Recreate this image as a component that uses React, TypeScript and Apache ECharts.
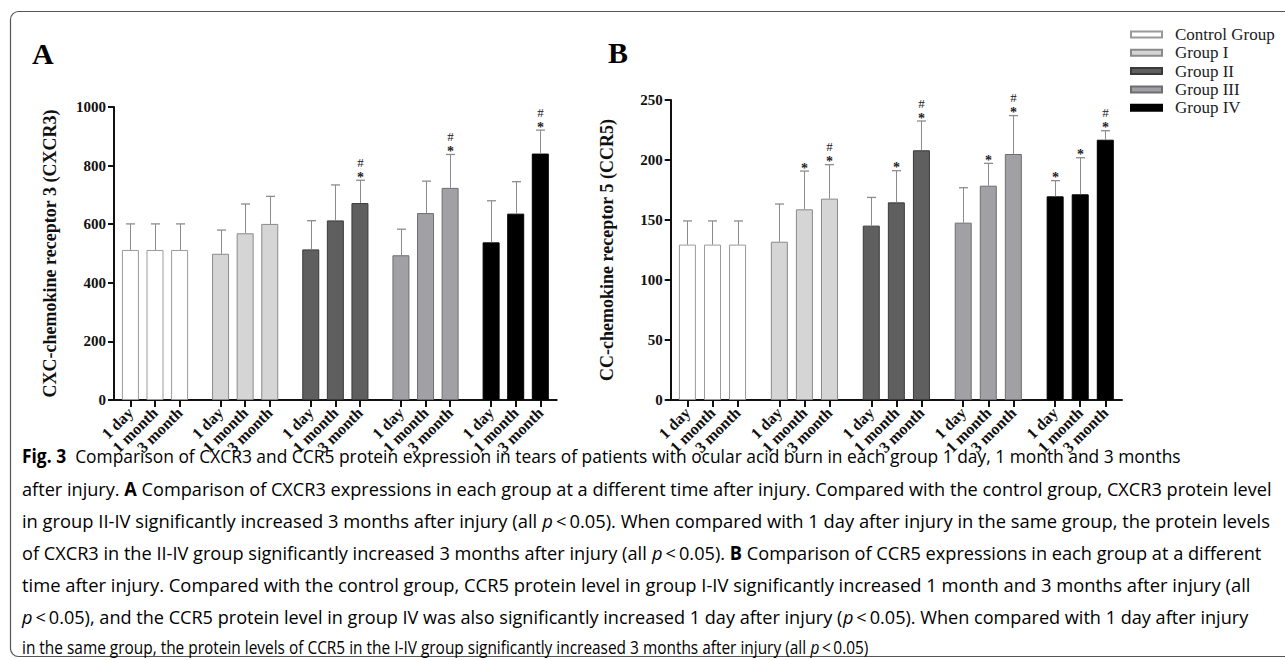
import React, { useEffect, useRef } from 'react';
import * as echarts from 'echarts';

// ---------------- data ----------------
const TIMES = ['1 day', '1 month', '3 month'];
const GROUPS = ['Control Group', 'Group I', 'Group II', 'Group III', 'Group IV'];

const CXCR3_MEAN = [
  [512, 512, 512],
  [499, 569, 601],
  [514, 613, 672],
  [494, 638, 724],
  [538, 636, 841],
];
const CXCR3_SD = [
  [89, 89, 89],
  [81, 100, 94],
  [98, 121, 78],
  [89, 109, 114],
  [142, 109, 80],
];
const CXCR3_SIG = [
  ['', '', ''],
  ['', '', ''],
  ['', '', '#*'],
  ['', '', '#*'],
  ['', '', '#*'],
];

const CCR5_MEAN = [
  [129.5, 129.5, 129.5],
  [131.9, 158.9, 167.8],
  [145.3, 164.7, 208.1],
  [147.8, 178.6, 205],
  [169.7, 171.4, 216.9],
];
const CCR5_SD = [
  [19.7, 19.7, 19.7],
  [31.4, 31.9, 28.3],
  [23.5, 26.4, 24.4],
  [29.1, 18.6, 32],
  [13.1, 30.5, 7.5],
];
const CCR5_SIG = [
  ['', '', ''],
  ['', '*', '#*'],
  ['', '*', '#*'],
  ['', '*', '#*'],
  ['*', '*', '#*'],
];

const Y_A = { min: 0, max: 1000, interval: 200, name: 'CXC-chemokine receptor 3 (CXCR3)' };
const Y_B = { min: 0, max: 250, interval: 50, name: 'CC-chemokine receptor 5 (CCR5)' };

const CAPTION: [string, string][][] = [
  [['b', 'Fig. 3'], ['n', '  Comparison of CXCR3 and CCR5 protein expression in tears of patients with ocular acid burn in each group 1 day, 1 month and 3 months']],
  [['n', 'after injury. '], ['b', 'A'], ['n', ' Comparison of CXCR3 expressions in each group at a different time after injury. Compared with the control group, CXCR3 protein level']],
  [['n', 'in group II-IV significantly increased 3 months after injury (all '], ['i', 'p'], ['n', '\u2009<\u20090.05). When compared with 1 day after injury in the same group, the protein levels']],
  [['n', 'of CXCR3 in the II-IV group significantly increased 3 months after injury (all '], ['i', 'p'], ['n', '\u2009<\u20090.05). '], ['b', 'B'], ['n', ' Comparison of CCR5 expressions in each group at a different']],
  [['n', 'time after injury. Compared with the control group, CCR5 protein level in group I-IV significantly increased 1 month and 3 months after injury (all']],
  [['i', 'p'], ['n', '\u2009<\u20090.05), and the CCR5 protein level in group IV was also significantly increased 1 day after injury ('], ['i', 'p'], ['n', '\u2009<\u20090.05). When compared with 1 day after injury']],
  [['n', 'in the same group, the protein levels of CCR5 in the I-IV group significantly increased 3 months after injury (all '], ['i', 'p'], ['n', '\u2009<\u20090.05)']],
];
const CAPTION_RIGHT = [1181, 1272, 1270, 1262, 1252, 1249, 868];
const CAPTION_Y = [456, 488, 520, 552, 584, 616, 647];

// ---------------- styling ----------------
const SERIF = '"Liberation Serif", "Times New Roman", serif';
const SANS = '"Open Sans", "Noto Sans", sans-serif';
const FILLS = ['#ffffff', '#d5d5d5', '#5f5f5f', '#a1a1a5', '#000000'];
const BORDERS = ['#9a9a9a', '#8a8a8a', '#3a3a3a', '#6e6e72', '#000000'];

const LEAD = 2;
const STEP = 3;
const GROUP_STEP = 11;
const N_SLOTS = 55;
const slotOf = (g: number, t: number) => LEAD + g * GROUP_STEP + t * STEP;

const slotLabel: string[] = [];
const slotKeys: string[] = [];
for (let i = 0; i < N_SLOTS; i++) {
  slotKeys.push('_' + i);
  slotLabel.push('');
}
GROUPS.forEach((_, g) =>
  TIMES.forEach((lab, t) => {
    slotLabel[slotOf(g, t)] = lab;
  })
);

const CAP_FONT = 19;

function measure(ctx: CanvasRenderingContext2D, segs: [string, string][]) {
  let w = 0;
  segs.forEach(([k, s]) => {
    const weight = k === 'b' ? 'bold ' : '';
    const style = k === 'i' ? 'italic ' : '';
    ctx.font = `${style}${weight}${CAP_FONT}px ${SANS}`;
    w += ctx.measureText(s).width;
  });
  return w;
}

function buildPanel(idx: number, mean: number[][], sd: number[][], sig: string[][]) {
  const series: any[] = [];
  GROUPS.forEach((name, g) => {
    const data: any[] = new Array(N_SLOTS).fill('-');
    TIMES.forEach((_, t) => {
      data[slotOf(g, t)] = mean[g][t];
    });
    series.push({
      type: 'bar',
      name,
      xAxisIndex: idx,
      yAxisIndex: idx,
      data,
      barWidth: 17,
      barGap: '-100%',
      itemStyle: { color: FILLS[g], borderColor: BORDERS[g], borderWidth: 1 },
      emphasis: { disabled: true },
      z: 2,
    });
  });
  const items: { slot: number; mean: number; sd: number; sig: string }[] = [];
  GROUPS.forEach((_, g) =>
    TIMES.forEach((__, t) => {
      items.push({ slot: slotOf(g, t), mean: mean[g][t], sd: sd[g][t], sig: sig[g][t] });
    })
  );
  series.push({
    type: 'custom',
    xAxisIndex: idx,
    yAxisIndex: idx,
    z: 3,
    silent: true,
    data: items.map((it) => [it.slot, it.mean + it.sd]),
    encode: { x: 0, y: 1 },
    renderItem: (params: any, api: any) => {
      const it = items[params.dataIndex];
      const p0 = api.coord([it.slot, it.mean]);
      const p1 = api.coord([it.slot, it.mean + it.sd]);
      const x = Math.round(p0[0]) + 0.5;
      const children: any[] = [
        { type: 'line', shape: { x1: x, y1: p0[1], x2: x, y2: p1[1] }, style: { stroke: '#8c8c8c', lineWidth: 1 } },
        { type: 'line', shape: { x1: x - 4.5, y1: p1[1], x2: x + 4.5, y2: p1[1] }, style: { stroke: '#8c8c8c', lineWidth: 1.3 } },
      ];
      if (it.sig.indexOf('*') >= 0) {
        children.push({
          type: 'text',
          x,
          y: p1[1] - 3,
          style: { text: '*', fill: '#222', font: `bold 14px ${SERIF}`, align: 'center', verticalAlign: 'middle' },
        });
      }
      if (it.sig.indexOf('#') >= 0) {
        children.push({
          type: 'text',
          x,
          y: p1[1] - 18,
          style: { text: '#', fill: '#222', font: `13px ${SERIF}`, align: 'center', verticalAlign: 'middle' },
        });
      }
      return { type: 'group', children };
    },
  });
  return series;
}

function axisPair(idx: number, y: { min: number; max: number; interval: number; name: string }) {
  const xAxis = {
    type: 'category',
    gridIndex: idx,
    data: slotKeys,
    boundaryGap: false,
    axisLine: { show: true, lineStyle: { color: '#111', width: 2 } },
    axisTick: {
      show: true,
      length: 7,
      interval: (i: number) => slotLabel[i] !== '',
      lineStyle: { color: '#111', width: 2 },
    },
    axisLabel: {
      interval: (i: number) => slotLabel[i] !== '',
      formatter: (_v: string, i: number) => slotLabel[i],
      rotate: 45,
      margin: 10,
      color: '#111',
      fontFamily: SERIF,
      fontWeight: 'bold',
      fontSize: 16,
    },
    splitLine: { show: false },
  };
  const yAxis = {
    type: 'value',
    gridIndex: idx,
    min: y.min,
    max: y.max,
    interval: y.interval,
    name: y.name,
    nameLocation: 'middle',
    nameGap: 55,
    nameTextStyle: { fontFamily: SERIF, fontWeight: 'bold', fontSize: 18, color: '#111' },
    axisLine: { show: true, lineStyle: { color: '#111', width: 2 } },
    axisTick: { show: true, length: 6, lineStyle: { color: '#111', width: 2 } },
    axisLabel: {
      margin: 8,
      color: '#111',
      fontFamily: SERIF,
      fontWeight: 'bold',
      fontSize: 15,
      formatter: (v: number) => String(v),
    },
    splitLine: { show: false },
  };
  return { xAxis, yAxis };
}

export default function App() {
  const ref = useRef<HTMLDivElement>(null);
  useEffect(() => {
    if (!ref.current) return;
    const chart = echarts.init(ref.current, undefined, { renderer: 'svg' });
    const A = axisPair(0, Y_A);
    const B = axisPair(1, Y_B);

    const canvas = document.createElement('canvas');
    const ctx = canvas.getContext('2d') as CanvasRenderingContext2D;
    const captionEls = CAPTION.map((segs, li) => {
      const w = measure(ctx, segs);
      const sx = (CAPTION_RIGHT[li] - 22) / w;
      return {
        type: 'text',
        x: 22,
        y: CAPTION_Y[li],
        scaleX: sx,
        silent: true,
        style: {
          text: segs.map(([k, s]) => `{${k}|${s}}`).join(''),
          verticalAlign: 'middle',
          align: 'left',
          rich: {
            n: { fontFamily: SANS, fontSize: CAP_FONT, color: '#231f20' },
            b: { fontFamily: SANS, fontSize: CAP_FONT, fontWeight: 'bold', color: '#231f20' },
            i: { fontFamily: SANS, fontSize: CAP_FONT, fontStyle: 'italic', color: '#231f20' },
          },
        },
      };
    });

    chart.setOption({
      animation: false,
      backgroundColor: '#ffffff',
      grid: [
        { left: 114, top: 107, width: 442.7, height: 293 },
        { left: 670.7, top: 100, width: 451.3, height: 300 },
      ],
      xAxis: [A.xAxis, B.xAxis],
      yAxis: [A.yAxis, B.yAxis],
      legend: {
        data: GROUPS,
        orient: 'vertical',
        left: 1125,
        top: 21,
        itemWidth: 31,
        itemHeight: 6,
        itemGap: 1.3,
        icon: 'rect',
        selectedMode: false,
        textStyle: { fontFamily: SERIF, fontSize: 17, color: '#222', padding: [0, 0, 0, 8] },
      },
      series: [
        ...buildPanel(0, CXCR3_MEAN, CXCR3_SD, CXCR3_SIG),
        ...buildPanel(1, CCR5_MEAN, CCR5_SD, CCR5_SIG),
      ],
      graphic: [
        {
          type: 'rect',
          shape: { x: 10.5, y: 11.5, width: 1300, height: 645, r: 8 },
          style: { fill: 'none', stroke: '#555', lineWidth: 1.2 },
          silent: true,
        },
        { type: 'text', x: 32, y: 53, style: { text: 'A', font: `bold 30px ${SERIF}`, fill: '#000', verticalAlign: 'middle' } },
        { type: 'text', x: 608, y: 52, style: { text: 'B', font: `bold 30px ${SERIF}`, fill: '#000', verticalAlign: 'middle' } },
        ...captionEls,
      ],
    });
    return () => chart.dispose();
  }, []);
  return <div ref={ref} style={{ position: 'absolute', left: 0, top: 0, width: 1285, height: 660 }} />;
}
